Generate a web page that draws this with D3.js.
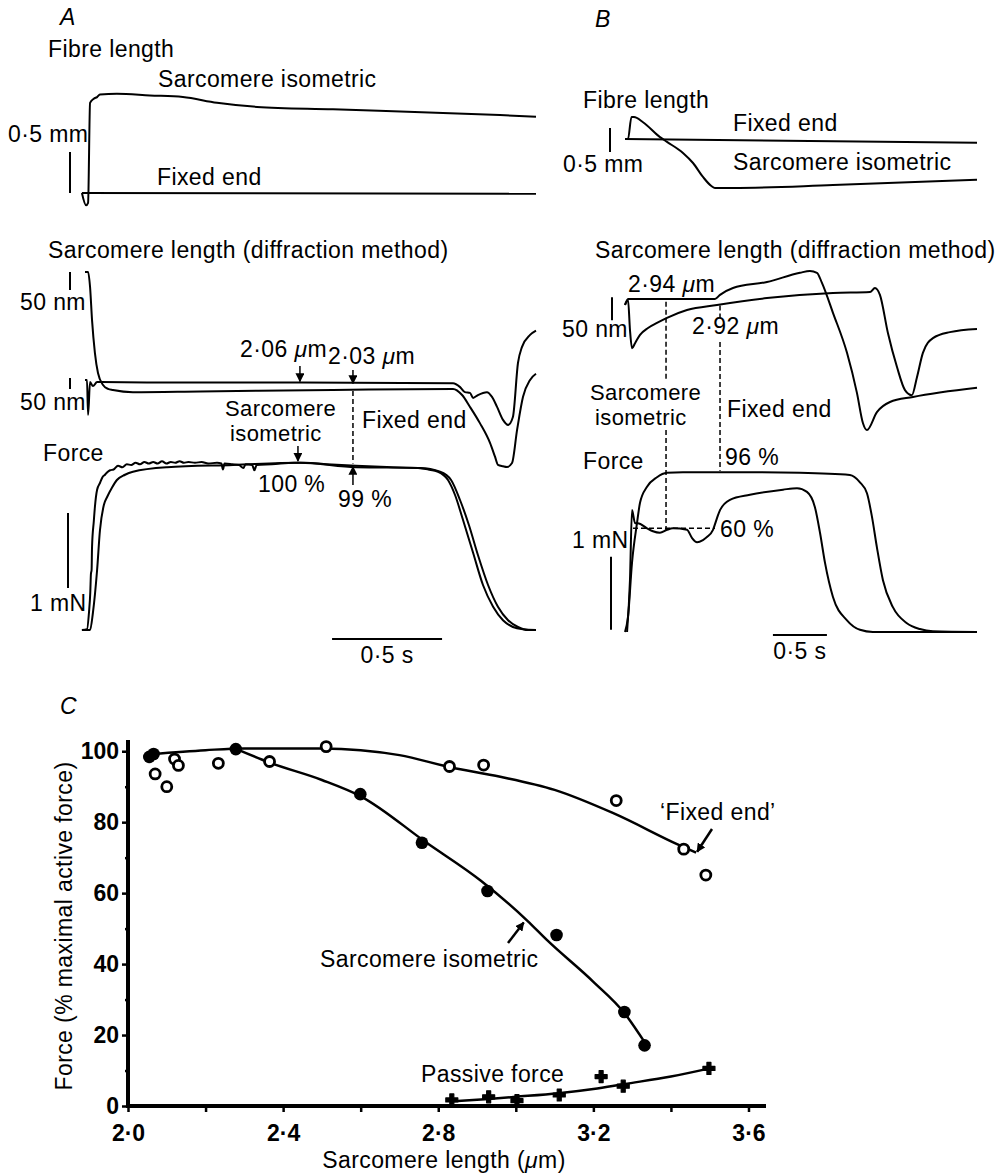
<!DOCTYPE html>
<html>
<head>
<meta charset="utf-8">
<script src="https://cdnjs.cloudflare.com/ajax/libs/d3/7.8.5/d3.min.js"></script>
<style>
  body { margin: 0; background: #fff; }
  svg { display: block; }
  text { font-family: "Liberation Sans", Arial, Helvetica, sans-serif; font-size: 23px; fill: #000; letter-spacing: 0.4px; }
  .trace { fill: none; stroke: #000; stroke-width: 2; stroke-linejoin: round; }
  .bar { stroke: #000; stroke-width: 2; }
  .dash { stroke: #000; stroke-width: 1.5; stroke-dasharray: 5,3; }
  .fit { fill: none; stroke: #000; stroke-width: 2.5; }
  .axis line { stroke: #000; stroke-width: 2.5; }
  .axis .domain { display: none; }
  .axis text { font-weight: bold; font-size: 23px; letter-spacing: 0; }
  .two { font-size: 22px; }
  .axisline { fill: none; stroke: #000; stroke-width: 4; stroke-linecap: square; }
</style>
</head>
<body>
<div class="figure"></div>
<script>
var width = 1000,
  height = 1175;

// ---- Panel A traces: [time (s), value] ----
// fibre length (mm)
var fibreAFixed = [[-0.014, 0], [2.05, -0.01]];
var fibreAIso = [[-0.014, 0], [0.005, -0.15], [0.014, -0.12], [0.023, 1.1], [0.04, 1.15], [0.055, 1.17],
  [0.068, 1.2], [0.145, 1.21], [0.295, 1.19], [0.445, 1.17], [0.6, 1.1], [0.782, 1.05], [1.127, 1.02],
  [1.886, 0.95], [2.05, 0.93]];
// sarcomere length (nm)
var slAFixed = [[0, 328], [0.014, 328], [0.023, 286], [0.032, 194], [0.045, 103], [0.059, 47], [0.082, 14],
  [0.105, 3], [0.127, 0], [0.218, -6], [0.523, -4], [1.127, 0], [1.673, 3], [1.714, -14], [1.75, -47],
  [1.795, -92], [1.841, -147], [1.864, -186], [1.877, -208], [1.9, -212], [1.918, -214], [1.941, -203],
  [1.964, -111], [1.991, -19], [2.023, 28], [2.05, 45]];
var slAIso = [[0, 28], [0.009, 28], [0.014, -69], [0.023, 22], [0.036, 11], [0.055, 22], [0.3, 21],
  [0.977, 21], [1.673, 19], [1.705, 8], [1.727, -6], [1.75, -8], [1.764, -22], [1.786, -14], [1.827, -6],
  [1.85, -19], [1.873, -47], [1.9, -83], [1.923, -97], [1.945, -75], [1.968, 75], [1.986, 119],
  [2.023, 153], [2.05, 165]];
// force (mN)
var forceAFixed = [[-0.014, 0], [0.009, 0.01], [0.018, 0.23], [0.024, 0.5], [0.027, 0.75], [0.03, 0.8],
  [0.032, 1.11], [0.04, 1.45], [0.045, 1.64], [0.055, 1.87], [0.068, 1.96], [0.08, 2.04], [0.091, 2.07],
  [0.1, 2.1], [0.114, 2.13], [0.13, 2.14], [0.15, 2.19], [0.17, 2.17], [0.19, 2.21], [0.21, 2.2],
  [0.23, 2.23], [0.25, 2.21], [0.27, 2.24], [0.29, 2.22], [0.31, 2.24], [0.33, 2.22], [0.35, 2.25],
  [0.37, 2.22], [0.39, 2.24], [0.41, 2.23], [0.43, 2.25], [0.45, 2.23], [0.47, 2.24], [0.5, 2.23],
  [0.53, 2.24], [0.56, 2.22], [0.6, 2.23], [0.62, 2.22], [0.627, 2.14], [0.634, 2.22], [0.67, 2.21],
  [0.7, 2.2], [0.72, 2.16], [0.73, 2.21], [0.76, 2.2], [0.77, 2.13], [0.78, 2.2], [0.85, 2.21],
  [0.95, 2.23], [1.0, 2.23], [1.1, 2.21], [1.232, 2.19], [1.4, 2.17], [1.514, 2.16], [1.56, 2.14],
  [1.605, 2.11], [1.65, 2.0], [1.682, 1.8], [1.718, 1.47], [1.764, 1.03], [1.809, 0.6], [1.855, 0.31],
  [1.9, 0.13], [1.945, 0.04], [1.99, 0.01], [2.05, 0]];
var forceAIso = [[-0.014, 0], [0.023, 0], [0.036, 0.23], [0.055, 0.8], [0.068, 1.33], [0.086, 1.67],
  [0.1, 1.77], [0.123, 1.9], [0.145, 2.0], [0.182, 2.07], [0.218, 2.11], [0.373, 2.17], [0.673, 2.2],
  [0.977, 2.23], [1.232, 2.17], [1.523, 2.16], [1.614, 2.11], [1.664, 2.0], [1.705, 1.73], [1.745, 1.4],
  [1.786, 1.0], [1.832, 0.6], [1.877, 0.31], [1.923, 0.13], [1.968, 0.04], [2.014, 0], [2.05, 0]];

// ---- Panel B traces ----
var fibreBFixed = [[0, 0], [3.26, -0.08]];
var fibreBIso = [[0, 0], [0.028, 0], [0.06, 0.46], [0.083, 0.46], [0.167, 0.35], [0.324, 0.04],
  [0.389, -0.06], [0.537, -0.29], [0.63, -0.5], [0.722, -0.79], [0.8, -0.98], [0.833, -1.02],
  [1.0, -1.02], [1.926, -0.96], [3.26, -0.85]];
var slBIso = [[0, -13], [0.028, 0], [0.833, 0], [0.88, 9], [1.0, 24], [1.315, 37], [1.62, 57],
  [1.713, 61], [1.778, 57], [1.824, 35], [1.926, -30], [2.056, -117], [2.148, -204], [2.204, -270],
  [2.241, -285], [2.333, -246], [2.454, -224], [2.667, -213], [3.26, -193]];
var slBFixed = [[0, -13], [0.028, -2], [0.046, -67], [0.065, -107], [0.093, -96], [0.139, -78],
  [0.213, -63], [0.296, -52], [0.389, -41], [0.574, -24], [0.852, -13], [1.315, 2], [1.926, 13],
  [2.269, 15], [2.315, 24], [2.361, 9], [2.435, -74], [2.519, -148], [2.593, -198], [2.657, -209],
  [2.704, -170], [2.759, -117], [2.852, -85], [3.009, -72], [3.26, -65]];
var forceBFixed = [[0, 0], [0.028, 0.21], [0.065, 0.95], [0.111, 1.49], [0.139, 1.77], [0.204, 1.99],
  [0.296, 2.12], [0.389, 2.18], [0.537, 2.19], [1.0, 2.19], [1.62, 2.18], [2.083, 2.15], [2.176, 2.05],
  [2.241, 1.9], [2.287, 1.58], [2.333, 1.16], [2.389, 0.71], [2.481, 0.34], [2.611, 0.12], [2.731, 0.04],
  [2.852, 0.01], [3.26, 0]];
var forceBIso = [[0.019, 0], [0.046, 0.71], [0.065, 1.67], [0.093, 1.49], [0.12, 1.49], [0.204, 1.42],
  [0.259, 1.38], [0.324, 1.36], [0.389, 1.4], [0.444, 1.42], [0.574, 1.4], [0.62, 1.29], [0.667, 1.23],
  [0.722, 1.26], [0.759, 1.3], [0.815, 1.4], [0.852, 1.56], [0.88, 1.67], [0.972, 1.81], [1.157, 1.88],
  [1.463, 1.95], [1.593, 1.97], [1.685, 1.92], [1.759, 1.71], [1.806, 1.36], [1.852, 0.95], [1.926, 0.48],
  [2.056, 0.16], [2.176, 0.03], [2.296, 0], [3.26, 0]];

// ---- Panel C: sarcomere length (um) vs force (% max) ----
var fixedEndPoints = [[2.07, 93.6], [2.10, 90.0], [2.12, 97.8], [2.13, 96], [2.233, 96.6], [2.365, 97.1],
  [2.511, 101.3], [2.829, 95.7], [2.917, 96.1], [3.259, 86.1], [3.433, 72.4], [3.49, 65.1]];
var isometricPoints = [[2.055, 98.4], [2.066, 99.2], [2.278, 100.6], [2.599, 87.9], [2.758, 74.2],
  [2.927, 60.6], [3.105, 48.2], [3.28, 26.5], [3.332, 17.1]];
var passivePoints = [[2.835, 1.7], [2.93, 2.6], [3.003, 1.5], [3.112, 3.1], [3.22, 8.3], [3.277, 5.6],
  [3.498, 10.6]];
var fixedEndFit = [[2.06, 99.2], [2.2, 100.3], [2.3, 100.8], [2.5, 100.8], [2.7, 98.9], [2.83, 95.5],
  [2.96, 92.8], [3.1, 89.1], [3.25, 82.6], [3.42, 73.6], [3.465, 71.4]];
var isometricFit = [[2.28, 100.6], [2.365, 96.8], [2.5, 91.9], [2.6, 87.3], [2.77, 74.2], [2.91, 63.5],
  [3.03, 52.2], [3.08, 46.8], [3.2, 35], [3.28, 26.2], [3.335, 17.5]];
var passiveFit = [[2.83, 1.3], [2.93, 2.0], [3.0, 2.6], [3.11, 3.6], [3.2, 4.8], [3.28, 6.2], [3.4, 8.3],
  [3.5, 10.6]];
var xTicksC = [2.0, 2.2, 2.4, 2.6, 2.8, 3.0, 3.2, 3.4, 3.6];
var yTicksC = [0, 10, 20, 30, 40, 50, 60, 70, 80, 90, 100];

//Scales
var xA = d3.scaleLinear().domain([0, 2.05]).range([85, 536]);
var xB = d3.scaleLinear().domain([0, 3.26]).range([625, 977]);
var yAFib = d3.scaleLinear().domain([0, 1]).range([193, 111]);
var yASl = d3.scaleLinear().domain([0, 50]).range([390, 372]);
var yAF = d3.scaleLinear().domain([0, 1]).range([630, 555]);
var yBFib = d3.scaleLinear().domain([0, 1]).range([139, 91]);
var yBSl = d3.scaleLinear().domain([0, 50]).range([299, 276]);
var yBF = d3.scaleLinear().domain([0, 1]).range([632, 559]);
var xC = d3.scaleLinear().domain([2.0, 3.64]).range([128, 764]);
var yC = d3.scaleLinear().domain([0, 102.6]).range([1106, 742]);

var svg = d3.select('.figure')
  .append('svg')
  .attr('width', width)
  .attr('height', height);

svg.append('rect').attr('width', width).attr('height', height).attr('fill', '#fff');

svg.append('defs').append('marker')
  .attr('id', 'arrow')
  .attr('viewBox', '0 0 10 10')
  .attr('refX', 9).attr('refY', 5)
  .attr('markerWidth', 9).attr('markerHeight', 9)
  .attr('markerUnits', 'userSpaceOnUse')
  .attr('orient', 'auto')
  .append('path')
  .attr('d', 'M0,0L10,5L0,10z');

var lineFor = function (x, y) {
  return d3.line()
    .x(function (d) { return x(d[0]); })
    .y(function (d) { return y(d[1]); })
    .curve(d3.curveMonotoneX);
};

var drawTrace = function (data, x, y) {
  svg.append('path')
    .datum(data)
    .attr('class', 'trace')
    .attr('d', lineFor(x, y));
};

var addText = function (x, y, html, anchor, style) {
  var t = svg.append('text')
    .attr('x', x)
    .attr('y', y)
    .attr('text-anchor', anchor || 'start')
    .html(html);
  if (style) t.attr('font-style', style);
  return t;
};

// two-line label kept in one text element
var addText2 = function (x1, y1, s1, x2, y2, s2) {
  var t = svg.append('text').attr('class', 'two');
  t.append('tspan').attr('x', x1).attr('y', y1).text(s1);
  t.append('tspan').attr('x', x2).attr('y', y2).text(s2);
};

var vBar = function (x, y1, y2) {
  svg.append('line').attr('class', 'bar')
    .attr('x1', x).attr('x2', x).attr('y1', y1).attr('y2', y2);
};

var hBar = function (x1, x2, y) {
  svg.append('line').attr('class', 'bar')
    .attr('x1', x1).attr('x2', x2).attr('y1', y).attr('y2', y);
};

var dash = function (x1, y1, x2, y2) {
  svg.append('line').attr('class', 'dash')
    .attr('x1', x1).attr('y1', y1).attr('x2', x2).attr('y2', y2);
};

var arrow = function (x1, y1, x2, y2, w) {
  svg.append('line')
    .attr('x1', x1).attr('y1', y1).attr('x2', x2).attr('y2', y2)
    .attr('stroke', '#000').attr('stroke-width', w || 1.5)
    .attr('marker-end', 'url(#arrow)');
};

var mu = '<tspan font-style="italic">μ</tspan>m';

// ================= Panel A =================
addText(60, 25, 'A', 'start', 'italic');
addText(48, 57, 'Fibre length');
addText(158, 87, 'Sarcomere isometric');
addText(8, 142, '0·5 mm');
addText(157, 185, 'Fixed end');
vBar(70, yAFib(0), yAFib(0.5));
drawTrace(fibreAFixed, xA, yAFib);
drawTrace(fibreAIso, xA, yAFib);

addText(48, 258, 'Sarcomere length (diffraction method)');
vBar(70, yASl(278), yASl(328));
addText(20, 310, '50 nm');
vBar(70, yASl(3), yASl(33));
addText(20, 410, '50 nm');
drawTrace(slAFixed, xA, yASl);
drawTrace(slAIso, xA, yASl);
addText(240, 357, '2·06 ' + mu);
addText(328, 364, '2·03 ' + mu);
arrow(xA(0.977), 366, xA(0.977), yASl(21) - 1);
arrow(xA(1.218), 370, xA(1.218), yASl(21) + 1);
dash(xA(1.218), yASl(0) + 1, xA(1.218), yAF(2.22));
addText2(225, 416, 'Sarcomere', 230, 441, 'isometric');
addText(362, 428, 'Fixed end');

addText(43, 461, 'Force');
drawTrace(forceAIso, xA, yAF);
drawTrace(forceAFixed, xA, yAF);
arrow(xA(0.968), 446, xA(0.968), yAF(2.24) - 1);
arrow(xA(1.218), 485, xA(1.218), yAF(2.19) + 1);
addText(258, 492, '100 %');
addText(338, 507, '99 %');
vBar(68, yAF(0.56), yAF(1.56));
addText(30, 611, '1 mN');
hBar(xA(1.123), xA(1.623), 639);
addText(xA(1.373), 663, '0·5 s', 'middle');

// ================= Panel B =================
addText(595, 27, 'B', 'start', 'italic');
addText(583, 108, 'Fibre length');
vBar(610, yBFib(-0.27), yBFib(0.23));
addText(563, 172, '0·5 mm');
addText(733, 131, 'Fixed end');
addText(733, 170, 'Sarcomere isometric');
drawTrace(fibreBFixed, xB, yBFib);
drawTrace(fibreBIso, xB, yBFib);

addText(595, 258, 'Sarcomere length (diffraction method)');
addText(628, 292, '2·94 ' + mu);
vBar(612, yBSl(-46), yBSl(4));
addText(562, 337, '50 nm');
addText(692, 334, '2·92 ' + mu);
drawTrace(slBFixed, xB, yBSl);
drawTrace(slBIso, xB, yBSl);
// dashed markers at the two measuring times
dash(xB(0.38), yBSl(-6), xB(0.38), 380);
dash(xB(0.38), 430, xB(0.38), yBF(1.38));
dash(xB(0.88), yBSl(-14), xB(0.88), 318);
dash(xB(0.88), 342, xB(0.88), yBF(2.21));
addText2(590, 400, 'Sarcomere', 595, 425, 'isometric');
addText(727, 417, 'Fixed end');

addText(583, 469, 'Force');
addText(725, 465, '96 %');
addText(720, 537, '60 %');
drawTrace(forceBFixed, xB, yBF);
drawTrace(forceBIso, xB, yBF);
dash(xB(0.074), yBF(1.42), xB(0.833), yBF(1.42));
addText(572, 548, '1 mN');
vBar(611, yBF(0.03), yBF(1.03));
hBar(xB(1.37), xB(1.87), 635);
addText(xB(1.62), 659, '0·5 s', 'middle');

// ================= Panel C =================
addText(60, 714, 'C', 'start', 'italic');

var yAxisC = d3.axisLeft(yC)
  .tickValues(yTicksC)
  .tickSize(6)
  .tickSizeOuter(0)
  .tickPadding(3)
  .tickFormat(function (d) { return d % 20 === 0 ? d : ''; });

var xAxisC = d3.axisBottom(xC)
  .tickValues(xTicksC)
  .tickSize(6)
  .tickSizeOuter(0)
  .tickPadding(13)
  .tickFormat(function (d) {
    return Math.round(d * 10) % 4 === 0 ? d.toFixed(1).replace('.', '·') : '';
  });

svg.append('g')
  .attr('class', 'axis y')
  .attr('transform', 'translate(' + xC(2.0) + ',0)')
  .call(yAxisC);

svg.append('g')
  .attr('class', 'axis x')
  .attr('transform', 'translate(0,' + yC(0) + ')')
  .call(xAxisC);

// minor y ticks are shorter
svg.selectAll('.axis.y .tick')
  .filter(function (d) { return d % 20 !== 0; })
  .select('line')
  .attr('x2', -3);

// axis lines over the full scale range
var axisLine = d3.line()
  .x(function (d) { return xC(d[0]); })
  .y(function (d) { return yC(d[1]); });
svg.append('path')
  .attr('class', 'axisline')
  .attr('d', axisLine([[2.0, 102.6], [2.0, 0], [3.64, 0]]));

var fitLine = d3.line()
  .x(function (d) { return xC(d[0]); })
  .y(function (d) { return yC(d[1]); })
  .curve(d3.curveMonotoneX);

[fixedEndFit, isometricFit, passiveFit].forEach(function (f) {
  svg.append('path').datum(f).attr('class', 'fit').attr('d', fitLine);
});

svg.selectAll('circle.open')
  .data(fixedEndPoints)
  .enter()
  .append('circle')
  .attr('class', 'open')
  .attr('cx', function (d) { return xC(d[0]); })
  .attr('cy', function (d) { return yC(d[1]); })
  .attr('r', 5)
  .attr('fill', '#fff')
  .attr('stroke', '#000')
  .attr('stroke-width', 2.8);

svg.selectAll('circle.filled')
  .data(isometricPoints)
  .enter()
  .append('circle')
  .attr('class', 'filled')
  .attr('cx', function (d) { return xC(d[0]); })
  .attr('cy', function (d) { return yC(d[1]); })
  .attr('r', 6.3)
  .attr('fill', '#000');

svg.selectAll('path.plus')
  .data(passivePoints)
  .enter()
  .append('path')
  .attr('class', 'plus')
  .attr('transform', function (d) { return 'translate(' + xC(d[0]) + ',' + yC(d[1]) + ')'; })
  .attr('d', d3.symbol().type(d3.symbolCross).size(80))
  .attr('fill', '#000')
  .attr('stroke', '#000')
  .attr('stroke-width', 1.2)
  .attr('stroke-linejoin', 'round');

// annotations
addText(660, 820, '‘Fixed end’');
arrow(712, 829, xC(3.465) + 1, yC(71.4) - 1, 2.5);
addText(320, 967, 'Sarcomere isometric');
arrow(508, 943, xC(3.023) - 1, yC(52) + 1, 2.5);
addText(421, 1082, 'Passive force');

addText(444, 1168, 'Sarcomere length (' + mu + ')', 'middle');
svg.append('text')
  .attr('transform', 'translate(72,926) rotate(-90)')
  .attr('text-anchor', 'middle')
  .text('Force (% maximal active force)');
</script>
</body>
</html>
